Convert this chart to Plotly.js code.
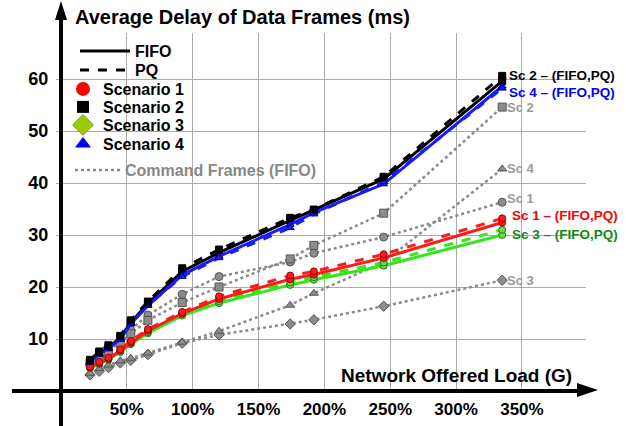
<!DOCTYPE html>
<html><head><meta charset="utf-8">
<script src="https://cdn.plot.ly/plotly-3.0.1.min.js"></script>
<style>html,body{margin:0;padding:0;background:#fff}</style>
</head><body><div id="chart" style="width:626px;height:426px"></div>
<script>
// Network offered load (%)
const loads = [22, 29, 36, 45, 53, 66, 92, 120, 174, 192, 245, 335];
// Average delay of data frames (ms)
const sc1Fifo = [4.6, 5.4, 6.2, 7.8, 9.3, 11.6, 14.9, 17.7, 21.5, 22.4, 25.6, 32.4];
const sc1Pq   = [4.7, 5.6, 6.4, 8.0, 9.6, 11.9, 15.2, 18.2, 22.2, 23.0, 26.3, 33.2];
const sc2Fifo = [5.8, 7.3, 8.4, 10.2, 13.2, 16.8, 23.0, 26.6, 32.8, 34.8, 40.8, 59.6];
const sc2Pq   = [6.0, 7.6, 8.8, 10.6, 13.6, 17.2, 23.6, 27.2, 33.3, 34.9, 41.2, 60.6];
const sc3Fifo = [4.4, 5.2, 6.0, 7.5, 9.0, 11.1, 14.5, 16.9, 20.4, 21.4, 24.1, 30.0];
const sc3Pq   = [4.5, 5.3, 6.1, 7.7, 9.2, 11.3, 14.8, 17.3, 20.9, 21.9, 24.7, 31.0];
const sc4Fifo = [5.5, 7.1, 8.2, 9.9, 12.9, 16.4, 22.3, 25.9, 32.0, 34.3, 39.8, 58.6];
const sc4Pq   = [5.6, 7.2, 8.3, 10.0, 13.0, 16.5, 22.0, 25.6, 31.4, 34.0, 40.2, 58.2];
// Command frames (FIFO)
const sc1Cmd = [5.0, 6.2, 7.4, 9.8, 11.8, 14.6, 18.6, 22.0, 24.8, 26.5, 29.6, 36.3];
const sc2Cmd = [5.4, 6.2, 7.2, 9.2, 11.0, 13.6, 17.0, 20.0, 25.4, 28.0, 34.2, 54.6];
const sc3Cmd = [3.1, 3.8, 4.5, 5.4, 5.9, 7.0, 9.2, 10.8, 12.9, 13.7, 16.3, 21.3];
const sc4Cmd = [3.4, 4.3, 5.0, 5.8, 6.3, 7.3, 9.4, 11.5, 16.5, 18.8, 24.8, 42.7];

const xTickVals = [50, 100, 150, 200, 250, 300, 350];
const xTickText = ['50%', '100%', '150%', '200%', '250%', '300%', '350%'];
const yTickVals = [10, 20, 30, 40, 50, 60];

const FONT = 'Liberation Sans, Arial, sans-serif';
const RED = '#ff1a1a', BLACK = '#000000', GREEN = '#33e61a', BLUE = '#1a1aff', GRAY = '#8a8a8a';

// plot area geometry in pixels (for paper conversion of decorations)
const L = 61, R = 586, T = 33, B = 391;
const px = v => (v - L) / (R - L);
const py = v => (B - v) / (B - T);

function cmd(y, sym) {
  return {x: loads, y: y, mode: 'lines+markers', showlegend: false, hoverinfo: 'skip',
    line: {color: GRAY, width: 2.5, dash: 'dot'},
    marker: {symbol: sym, size: 8, color: '#8c8c8c', line: {color: '#555', width: 1}}};
}
function main(y, color, dash, sym, mcolor, mline) {
  return {x: loads, y: y, mode: 'lines+markers', showlegend: false, hoverinfo: 'skip',
    line: {color: color, width: 3, dash: dash},
    marker: {symbol: sym, size: 7, color: mcolor, line: {color: mline, width: 1}}};
}
const traces = [
  cmd(sc1Cmd, 'circle'), cmd(sc2Cmd, 'square'), cmd(sc3Cmd, 'diamond'), cmd(sc4Cmd, 'triangle-up'),
  main(sc3Fifo, GREEN, 'solid', 'circle', '#66dd44', '#227722'),
  main(sc3Pq, GREEN, 'dash', 'circle', '#66dd44', '#227722'),
  main(sc1Fifo, RED, 'solid', 'circle', RED, '#990000'),
  main(sc1Pq, RED, 'dash', 'circle', RED, '#990000'),
  main(sc2Fifo, BLACK, 'solid', 'square', BLACK, BLACK),
  main(sc4Fifo, BLUE, 'solid', 'triangle-up', BLUE, '#000088'),
  main(sc4Pq, BLUE, 'dash', 'triangle-up', BLUE, '#000088'),
  main(sc2Pq, BLACK, 'dash', 'square', BLACK, BLACK),
  // legend entries
  {x: [null], y: [null], mode: 'lines', name: 'FIFO', legend: 'legend', line: {color: BLACK, width: 3}},
  {x: [null], y: [null], mode: 'lines', name: 'PQ', legend: 'legend2', line: {color: BLACK, width: 3, dash: 'dash'}},
  {x: [null], y: [null], mode: 'markers', name: 'Scenario 1', legend: 'legend3', marker: {symbol: 'circle', size: 14, color: '#ff0000'}},
  {x: [null], y: [null], mode: 'markers', name: 'Scenario 2', legend: 'legend4', marker: {symbol: 'square', size: 12, color: BLACK}},
  {x: [null], y: [null], mode: 'markers', name: 'Scenario 3', legend: 'legend5', marker: {symbol: 'diamond', size: 16, color: '#99cc00', line: {color: '#779900', width: 1}}},
  {x: [null], y: [null], mode: 'markers', name: 'Scenario 4', legend: 'legend6', marker: {symbol: 'triangle-up', size: 14, color: '#0000ff'}},
  {x: [null], y: [null], mode: 'lines', name: 'Command Frames (FIFO)', legend: 'legend7', line: {color: GRAY, width: 2.5, dash: 'dot'}}
];

function leg(xPix, yPix, color, itemwidth) {
  return {x: px(xPix), y: py(yPix), xanchor: 'left', yanchor: 'middle', bgcolor: 'rgba(0,0,0,0)',
    borderwidth: 0, itemwidth: itemwidth, font: {family: FONT, size: 16, weight: 'bold', color: color}};
}

const labFont = (c, s) => ({family: FONT, size: s, weight: 'bold', color: c});
const last = loads.length - 1;
const annotations = [
  {x: loads[last], y: sc2Pq[last], text: 'Sc 2 – (FIFO,PQ)', xanchor: 'left', xshift: 5, showarrow: false, font: labFont('#000', 13.5)},
  {x: loads[last], y: sc4Pq[last], text: 'Sc 4 – (FIFO,PQ)', xanchor: 'left', xshift: 5, yshift: -4, showarrow: false, font: labFont('#0000ff', 13.5)},
  {x: loads[last], y: sc2Cmd[last], text: 'Sc 2', xanchor: 'left', xshift: 3, showarrow: false, font: labFont('#999', 13)},
  {x: loads[last], y: sc4Cmd[last], text: 'Sc 4', xanchor: 'left', xshift: 3, showarrow: false, font: labFont('#999', 13)},
  {x: loads[last], y: sc1Cmd[last], text: 'Sc 1', xanchor: 'left', xshift: 3, yshift: 4, showarrow: false, font: labFont('#999', 13)},
  {x: loads[last], y: sc1Pq[last], text: 'Sc 1 – (FIFO,PQ)', xanchor: 'left', xshift: 8, yshift: 3, showarrow: false, font: labFont('#ff0000', 13.5)},
  {x: loads[last], y: sc3Pq[last], text: 'Sc 3 – (FIFO,PQ)', xanchor: 'left', xshift: 8, yshift: -5, showarrow: false, font: labFont('#118811', 13.5)},
  {x: loads[last], y: sc3Cmd[last], text: 'Sc 3', xanchor: 'left', xshift: 3, showarrow: false, font: labFont('#999', 13)},
  {xref: 'paper', yref: 'paper', x: px(574), y: py(375), xanchor: 'right', yanchor: 'middle', showarrow: false,
   text: 'Network Offered Load (G)', font: {family: FONT, size: 19, weight: 'bold', color: '#000'}}
];

const shapes = [
  {type: 'line', xref: 'paper', yref: 'paper', x0: 0, x1: 0, y0: py(426), y1: py(16), line: {color: '#000', width: 4}},
  {type: 'path', xref: 'paper', yref: 'paper', path: `M ${px(55)} ${py(20)} L ${px(67)} ${py(20)} L ${px(61)} ${py(1)} Z`, fillcolor: '#000', line: {width: 0}},
  {type: 'line', xref: 'paper', yref: 'paper', x0: px(12), x1: px(582), y0: 0, y1: 0, line: {color: '#000', width: 4}},
  {type: 'path', xref: 'paper', yref: 'paper', path: `M ${px(577)} ${py(383)} L ${px(577)} ${py(397)} L ${px(598)} ${py(390)} Z`, fillcolor: '#000', line: {width: 0}}
];

const layout = {
  width: 626, height: 426,
  margin: {l: L, r: 626 - R, t: T, b: 426 - B, pad: 0},
  paper_bgcolor: '#fff', plot_bgcolor: '#fff',
  font: {family: FONT},
  title: {text: 'Average Delay of Data Frames (ms)', xref: 'container', x: 75 / 626, xanchor: 'left',
          yref: 'container', y: 1 - 17 / 426, yanchor: 'middle',
          font: {family: FONT, size: 20, weight: 'bold', color: '#000'}},
  xaxis: {range: [0, (R - L) / 1.317], tickvals: xTickVals, ticktext: xTickText, showgrid: true, gridcolor: '#aaa', gridwidth: 1,
          zeroline: false, showline: false, ticks: '', ticklabelstandoff: 6,
          tickfont: {family: FONT, size: 17, weight: 'bold', color: '#000'}},
  yaxis: {range: [0, (B - T) / 5.2], tickvals: yTickVals, showgrid: true, gridcolor: '#aaa', gridwidth: 1,
          zeroline: false, showline: false, ticks: 'outside', ticklen: 4, tickcolor: '#aaa', ticklabelstandoff: 4,
          tickfont: {family: FONT, size: 18, weight: 'bold', color: '#000'}},
  legend: leg(75, 51, '#000', 50),
  legend2: leg(75, 70, '#000', 50),
  legend3: leg(63, 89, '#000', 30),
  legend4: leg(63, 107, '#000', 30),
  legend5: leg(63, 125, '#000', 30),
  legend6: leg(63, 144, '#000', 30),
  legend7: leg(70, 170, '#888', 45),
  annotations: annotations,
  shapes: shapes
};

Plotly.newPlot('chart', traces, layout, {displayModeBar: false, staticPlot: true});
</script>
</body></html>
